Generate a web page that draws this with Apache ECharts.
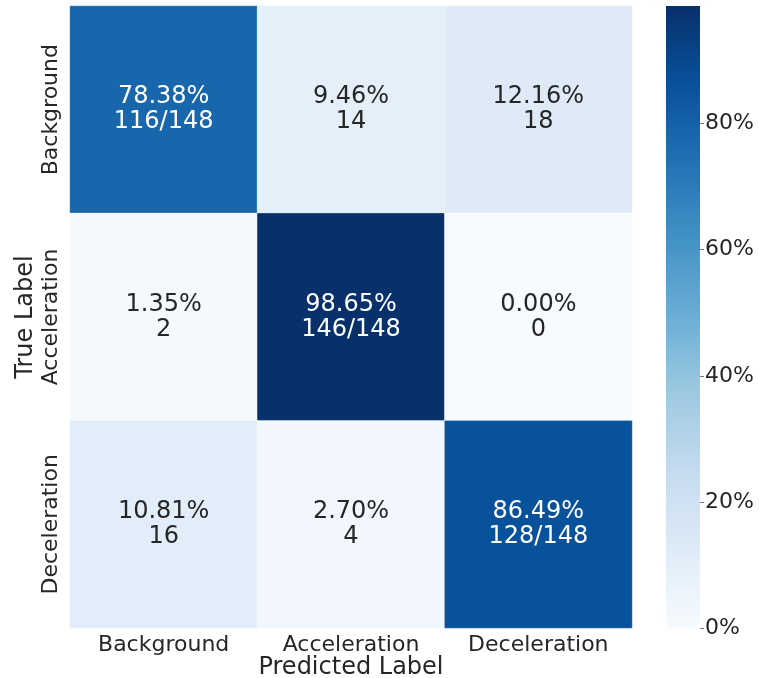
<!DOCTYPE html>
<html><head><meta charset="utf-8">
<script src="https://cdn.jsdelivr.net/npm/echarts@6/dist/echarts.min.js"></script>
<style>html,body{margin:0;padding:0;background:#fff}#c{width:759px;height:678px}</style>
</head><body><div id="c"></div>
<script>
const classes = ['Background', 'Acceleration', 'Deceleration'];
const percents = [
  [78.38, 9.46, 12.16],
  [1.35, 98.65, 0.00],
  [10.81, 2.70, 86.49]
];
const counts = [
  [116, 14, 18],
  [2, 146, 0],
  [16, 4, 128]
];
const rowTotals = [148, 148, 148];
const colorbarTicks = [0, 20, 40, 60, 80];
const blues = ['#f7fbff','#deebf7','#c6dbef','#9ecae1','#6baed6','#4292c6','#2171b5','#08519c','#08306b'];

const FONT = 'DejaVu Sans';
const vmax = Math.max(...percents.flat());
const data = [];
for (let r = 0; r < 3; r++) for (let c = 0; c < 3; c++) {
  data.push({
    value: [c, r, percents[r][c]],
    label: { color: percents[r][c] > vmax / 2 ? '#ffffff' : '#262626' }
  });
}
const gradient = new echarts.graphic.LinearGradient(0, 1, 0, 0,
  blues.map((c, i) => ({ offset: i / (blues.length - 1), color: c })));

const chart = echarts.init(document.getElementById('c'));
chart.setOption({
  animation: false,
  textStyle: { fontFamily: FONT },
  grid: [
    { left: 70, right: 127, top: 6, bottom: 50, containLabel: false, outerBoundsMode: 'none' },
    { left: 666, width: 34, top: 6, bottom: 50, containLabel: false, outerBoundsMode: 'none' }
  ],
  xAxis: [
    { type: 'category', gridIndex: 0, data: classes,
      axisLine: { show: false }, axisTick: { show: false }, splitArea: { show: false },
      axisLabel: { fontFamily: FONT, fontSize: 22, color: '#262626', margin: 6 },
      name: 'Predicted Label', nameLocation: 'middle', nameGap: 28, nameMoveOverlap: false,
      nameTextStyle: { fontFamily: FONT, fontSize: 24, color: '#262626' } },
    { type: 'category', gridIndex: 1, data: ['cb'], show: false }
  ],
  yAxis: [
    { type: 'category', gridIndex: 0, data: classes, inverse: true,
      axisLine: { show: false }, axisTick: { show: false }, splitArea: { show: false },
      axisLabel: { fontFamily: FONT, fontSize: 22, color: '#262626', rotate: 90, margin: 8 },
      name: 'True Label', nameLocation: 'middle', nameGap: 32, nameRotate: 90, nameMoveOverlap: false,
      nameTextStyle: { fontFamily: FONT, fontSize: 24, color: '#262626' } },
    { type: 'value', gridIndex: 1, position: 'right', min: 0, max: vmax,
      axisLine: { show: false }, splitLine: { show: false },
      axisTick: { show: true, length: 4, customValues: colorbarTicks, lineStyle: { color: '#777' } },
      axisLabel: { fontFamily: FONT, fontSize: 22, color: '#262626', margin: 5,
        customValues: colorbarTicks, formatter: v => v + '%' } }
  ],
  visualMap: {
    type: 'continuous', min: 0, max: vmax, seriesIndex: 0,
    show: false, inRange: { color: blues }
  },
  series: [{
    type: 'heatmap', xAxisIndex: 0, yAxisIndex: 0, data: data,
    itemStyle: { borderWidth: 1, borderColor: 'rgba(255,255,255,0.25)' },
    emphasis: { disabled: true },
    label: {
      show: true, fontFamily: FONT, fontSize: 24, lineHeight: 25,
      formatter: p => {
        const c = p.value[0], r = p.value[1];
        const cnt = r === c ? counts[r][c] + '/' + rowTotals[r] : String(counts[r][c]);
        return percents[r][c].toFixed(2) + '%\n' + cnt;
      }
    }
  }, {
    type: 'bar', xAxisIndex: 1, yAxisIndex: 1, data: [vmax],
    barWidth: '100%', silent: true,
    itemStyle: { color: gradient, borderRadius: 0 }
  }]
});
</script></body></html>
